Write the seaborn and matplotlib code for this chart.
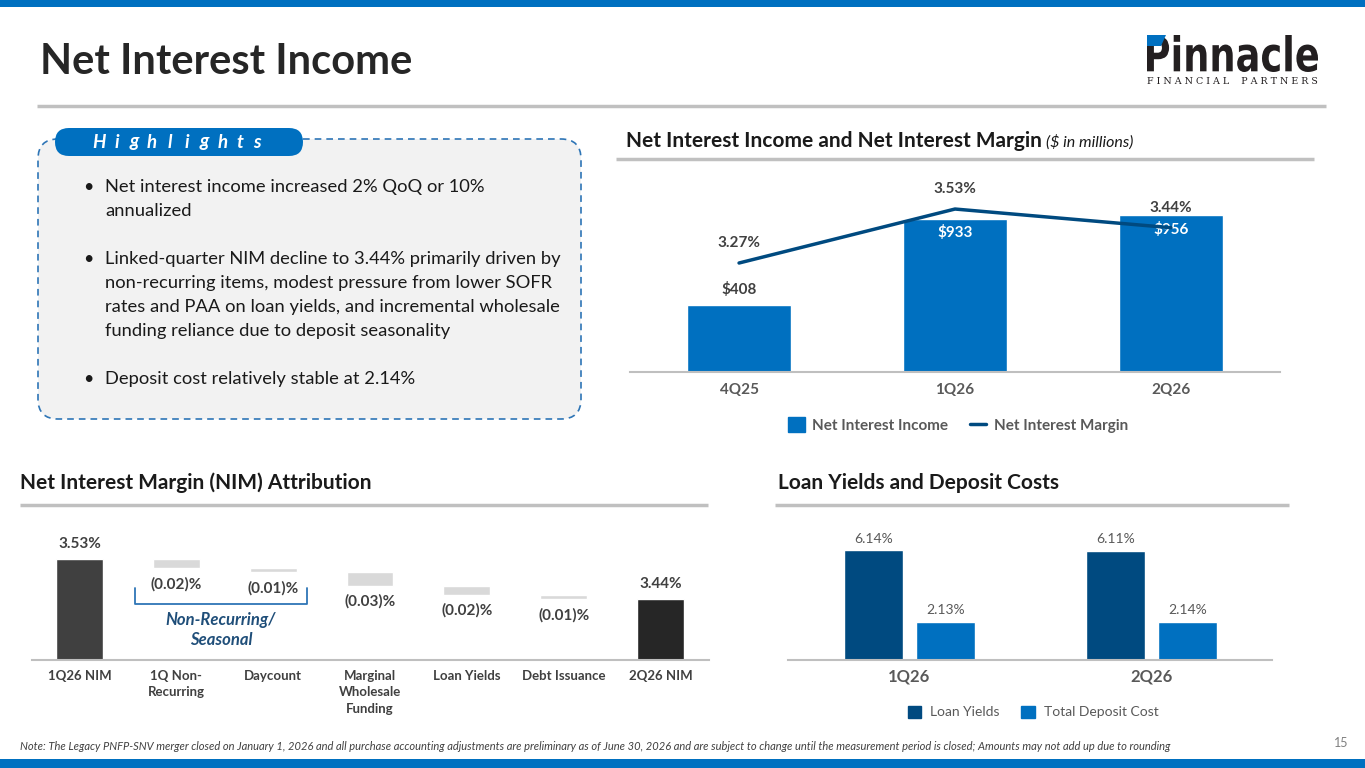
import numpy as np
import pandas as pd
import seaborn as sns
import matplotlib.pyplot as plt
from matplotlib.patches import FancyBboxPatch, Rectangle, PathPatch, Patch, Polygon
from matplotlib.lines import Line2D
from matplotlib.textpath import TextPath
from matplotlib.font_manager import FontProperties
from matplotlib.transforms import Affine2D

sns.set_theme(style="white")
plt.rcParams['font.family'] = ['Lato', 'DejaVu Sans']

# ---- data ----
quarters = ['4Q25', '1Q26', '2Q26']
nii = [408, 933, 956]
nim = [3.27, 3.53, 3.44]

nim_steps = ['1Q26 NIM', '1Q Non-\nRecurring', 'Daycount', 'Marginal\nWholesale\nFunding',
             'Loan Yields', 'Debt Issuance', '2Q26 NIM']
nim_changes = [3.53, -0.02, -0.01, -0.03, -0.02, -0.01, 3.44]
nim_labels = ['3.53%', '(0.02)%', '(0.01)%', '(0.03)%', '(0.02)%', '(0.01)%', '3.44%']

yield_quarters = ['1Q26', '2Q26']
loan_yields = [6.14, 6.11]
deposit_costs = [2.13, 2.14]

highlights = [
    "Net interest income increased 2% QoQ or 10%\nannualized",
    "Linked-quarter NIM decline to 3.44% primarily driven by\nnon-recurring items, modest pressure from lower SOFR\n"
    "rates and PAA on loan yields, and incremental wholesale\nfunding reliance due to deposit seasonality",
    "Deposit cost relatively stable at 2.14%",
]
footnote = ("Note: The Legacy PNFP-SNV merger closed on January 1, 2026 and all purchase accounting adjustments "
            "are preliminary as of June 30, 2026 and are subject to change until the measurement period is closed; "
            "Amounts may not add up due to rounding")

BLUE = '#0070c0'
NAVY = '#004a80'
DARK = '#404040'
GRAY = '#595959'
RULE = '#bfbfbf'

W, H = 1365, 768
fig = plt.figure(figsize=(W / 100, H / 100), dpi=100)
fig.patch.set_facecolor('white')

bg = fig.add_axes([0, 0, 1, 1])
bg.set_xlim(0, W)
bg.set_ylim(H, 0)
bg.axis('off')


def px_axes(x0, y0, x1, y1):
    ax = fig.add_axes([x0 / W, 1 - y1 / H, (x1 - x0) / W, (y1 - y0) / H])
    ax.patch.set_alpha(0)
    return ax


def clean(ax):
    for s in ['top', 'left', 'right']:
        ax.spines[s].set_visible(False)
    ax.spines['bottom'].set_color(RULE)
    ax.spines['bottom'].set_linewidth(1.5)
    ax.set_yticks([])
    ax.set_xlabel('')
    ax.set_ylabel('')


# ---- slide frame ----
bg.add_patch(Rectangle((0, 0), W, 7, color=BLUE, lw=0))
bg.add_patch(Rectangle((0, 759), W, 9, color=BLUE, lw=0))
bg.text(40, 62, "Net Interest Income", fontsize=30, fontweight='bold', color='#262626', va='center')
bg.plot([37, 1326], [106, 106], color='#c0c0c0', lw=2.5, solid_capstyle='butt')

# logo
tp = TextPath((0, 0), 'Pinnacle', size=1, prop=FontProperties(family='DejaVu Sans', weight='bold'))
ext = tp.get_extents()
tr = Affine2D().translate(-ext.x0, -ext.y0).scale(171 / ext.width, -37 / ext.height).translate(1147, 72)
bg.add_patch(PathPatch(tr.transform_path(tp), color='#231f20', lw=0))
bg.add_patch(Polygon([(1147, 35), (1166, 35), (1161, 46), (1147, 46)], color=BLUE, lw=0))
bg.text(1232, 81, 'F I N A N C I A L    P A R T N E R S', family='DejaVu Serif', fontsize=6.8,
        ha='center', va='center', color='#231f20')

# ---- highlights box ----
bg.add_patch(FancyBboxPatch((38, 139), 543, 280, boxstyle="round,pad=0,rounding_size=20",
                            facecolor='#f2f2f2', edgecolor='#2e75b6', lw=1.2, ls=(0, (4, 3))))
bg.add_patch(FancyBboxPatch((55, 128), 248, 28, boxstyle="round,pad=0,rounding_size=14",
                            facecolor=BLUE, edgecolor='none'))
for k, ch in enumerate("Highlights"):
    bg.text(99 + 17.6 * k, 142, ch, fontsize=13.5, fontweight='bold', style='italic',
            color='white', va='center', ha='center')
y = 187
for item in highlights:
    bg.text(88, y, '•', fontsize=13, color='#1a1a1a', va='center', ha='center')
    for line in item.split('\n'):
        bg.text(105, y, line, fontsize=13.2, color='#1a1a1a', va='center')
        y += 24
    y += 24

# ---- section titles ----
t_nii = bg.text(626, 141, "Net Interest Income and Net Interest Margin", fontsize=15, fontweight='bold',
                color='#1a1a1a', va='center')
bg.annotate("($ in millions)", xy=(1, 0.45), xycoords=t_nii, xytext=(3, 0), textcoords='offset points',
            fontsize=11.5, style='italic', color='#1a1a1a', va='center')
bg.plot([616, 1314], [159, 159], color='#c0c0c0', lw=2.5, solid_capstyle='butt')

bg.text(20, 483, "Net Interest Margin (NIM) Attribution", fontsize=15, fontweight='bold',
        color='#1a1a1a', va='center')
bg.plot([20, 708], [505, 505], color='#c0c0c0', lw=2.5, solid_capstyle='butt')

bg.text(778, 483, "Loan Yields and Deposit Costs", fontsize=15, fontweight='bold',
        color='#1a1a1a', va='center')
bg.plot([775, 1289], [505, 505], color='#c0c0c0', lw=2.5, solid_capstyle='butt')

# ---- NII bars + NIM line ----
df_nii = pd.DataFrame({'quarter': quarters, 'nii': nii, 'nim': nim})
ax1 = px_axes(630, 170, 1280, 372)
sns.barplot(data=df_nii, x='quarter', y='nii', color=BLUE, width=0.48, saturation=1, ax=ax1)
clean(ax1)
ax1.set_ylim(0, 1232)
ax1.tick_params(axis='x', length=0, pad=8, labelsize=11, labelcolor=GRAY)
for t in ax1.get_xticklabels():
    t.set_fontweight('bold')
for i, v in enumerate(nii):
    if v > 600:
        ax1.annotate(f"${v:,}", (i, v), xytext=(0, -10), textcoords='offset points', ha='center',
                     va='center', color='white', fontsize=11, fontweight='bold')
    else:
        ax1.annotate(f"${v:,}", (i, v), xytext=(0, 11.5), textcoords='offset points', ha='center',
                     va='center', color=DARK, fontsize=11, fontweight='bold')

ax2 = ax1.twinx()
sns.lineplot(x=np.arange(len(quarters)), y=nim, ax=ax2, color=NAVY, lw=2.5)
ax2.set_ylim(2.745, 3.718)
ax2.set_axis_off()
for i, v in enumerate(nim):
    ax2.annotate(f"{v:.2f}%", (i, v), xytext=(0, 14.4), textcoords='offset points', ha='center',
                 va='center', color=DARK, fontsize=11, fontweight='bold')
ax1.set_xlim(-0.505, 2.505)

fig.legend(handles=[Patch(color=BLUE, label='Net Interest Income'),
                    Line2D([], [], color=NAVY, lw=2.5, label='Net Interest Margin')],
           loc='center', bbox_to_anchor=(958 / W, 1 - 425 / H), ncol=2, frameon=False,
           prop={'weight': 'bold', 'size': 11}, labelcolor=GRAY, handlelength=1.1, handleheight=1.1,
           columnspacing=1.4, handletextpad=0.5)

# ---- NIM attribution waterfall ----
n = len(nim_changes)
heights, bottoms = [], []
running = 0.0
for i, c in enumerate(nim_changes):
    if i == 0 or i == n - 1:
        heights.append(c)
        bottoms.append(0.0)
        running = c
    else:
        running += c
        heights.append(-c)
        bottoms.append(running)
bar_colors = ['#404040'] + ['#d9d9d9'] * (n - 2) + ['#262626']

ax3 = px_axes(32, 520, 709, 660)
sns.barplot(x=nim_steps, y=heights, hue=nim_steps, palette=bar_colors, legend=False,
            width=0.485, saturation=1, ax=ax3)
for p in ax3.patches:
    idx = int(round(p.get_x() + p.get_width() / 2))
    p.set_y(bottoms[idx])
clean(ax3)
ax3.set_ylim(3.3025, 3.618)
ax3.set_xlim(-0.4905, 6.501)
ax3.tick_params(axis='x', length=0, pad=7, labelsize=9.5, labelcolor=DARK)
for t in ax3.get_xticklabels():
    t.set_fontweight('bold')
    t.set_linespacing(1.45)
for i in range(n):
    if i == 0 or i == n - 1:
        ax3.annotate(nim_labels[i], (i, heights[i]), xytext=(0, 10.8), textcoords='offset points',
                     ha='center', va='center', color=DARK, fontsize=11, fontweight='bold')
    else:
        ax3.annotate(nim_labels[i], (i, bottoms[i]), xytext=(0, -11.5), textcoords='offset points',
                     ha='center', va='center', color=DARK, fontsize=11, fontweight='bold')

bg.plot([135, 135, 307, 307], [588, 604, 604, 588], color='#2e75b6', lw=1.3,
        solid_joinstyle='round')
bg.text(221, 620, "Non-Recurring/", fontsize=12, fontweight='bold', style='italic',
        color='#1f4e79', ha='center', va='center')
bg.text(221, 640, "Seasonal", fontsize=12, fontweight='bold', style='italic',
        color='#1f4e79', ha='center', va='center')

# ---- loan yields and deposit costs ----
df_ly = pd.DataFrame({
    'quarter': yield_quarters * 2,
    'series': ['Loan Yields'] * len(yield_quarters) + ['Total Deposit Cost'] * len(yield_quarters),
    'value': loan_yields + deposit_costs,
})
ax4 = px_axes(788, 520, 1272, 660)
sns.barplot(data=df_ly, x='quarter', y='value', hue='series',
            palette={'Loan Yields': NAVY, 'Total Deposit Cost': BLUE},
            width=0.6, gap=0.19, saturation=1, legend=False, ax=ax4)
clean(ax4)
ax4.set_ylim(0, 7.82)
ax4.set_xlim(-0.502, 1.498)
ax4.tick_params(axis='x', length=0, pad=6, labelsize=12, labelcolor=GRAY)
for t in ax4.get_xticklabels():
    t.set_fontweight('bold')
for cont in ax4.containers:
    ax4.bar_label(cont, labels=[f"{v:.2f}%" for v in cont.datavalues], padding=4,
                  fontsize=10, color=GRAY)

fig.legend(handles=[Patch(color=NAVY, label='Loan Yields'),
                    Patch(color=BLUE, label='Total Deposit Cost')],
           loc='center', bbox_to_anchor=(1033 / W, 1 - 712 / H), ncol=2, frameon=False,
           prop={'size': 10}, labelcolor=GRAY, handlelength=1.0, handleheight=1.0,
           columnspacing=1.6, handletextpad=0.6)

# ---- footer ----
bg.text(20, 746, footnote, fontsize=8.0, style='italic', color='#404040', va='center')
bg.text(1341, 743, '15', fontsize=9, color='#808080', ha='center', va='center')

fig.savefig('out.png', dpi=100)
